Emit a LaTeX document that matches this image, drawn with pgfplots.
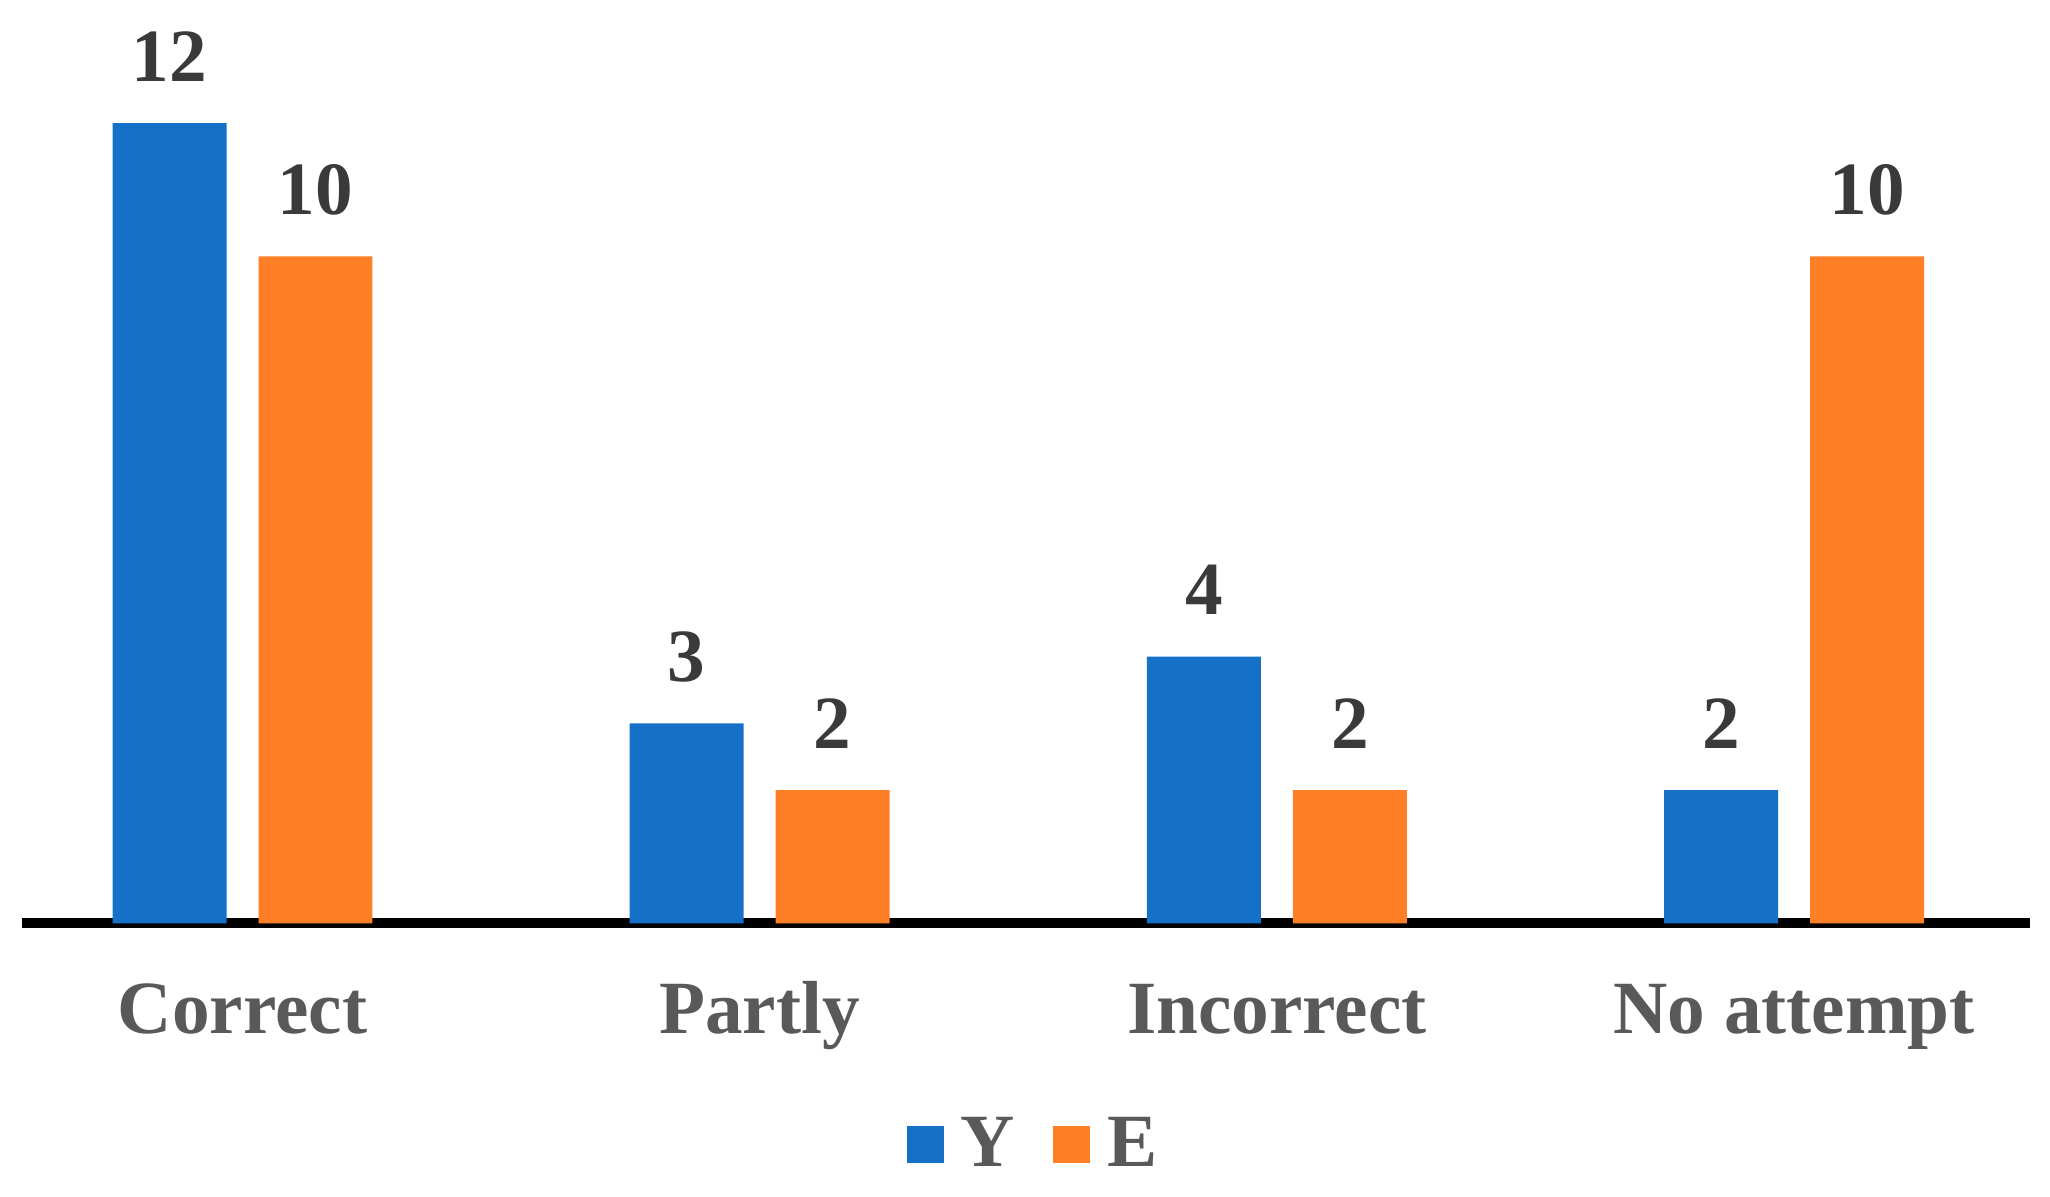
\documentclass[border=0pt]{standalone}
\usepackage{pgfplots}
\pgfplotsset{compat=1.18}
\usepackage{fontspec}
\setmainfont{Liberation Serif}

\definecolor{ybar}{HTML}{1570C8}
\definecolor{ebar}{HTML}{FF7F27}
\definecolor{lblgray}{HTML}{595959}
\definecolor{valgray}{HTML}{3A3A3A}

\begin{document}
\begin{tikzpicture}
\begin{axis}[
    x=129.3pt, y=16.675pt,
    xmin=-0.4263, xmax=3.456,
    ymin=0, ymax=13.8,
    clip=false,
    ybar=8pt,
    bar width=28.5pt,
    axis x line=bottom,
    axis y line=none,
    x axis line style={-, line width=2.5pt, black},
    xtick={0,1,2,3},
    xticklabels={Correct, Partly, Incorrect, No attempt},
    major tick length=0pt,
    xticklabel style={anchor=base, yshift=-27.5pt, text=lblgray,
        font=\fontsize{18.8}{23}\selectfont\bfseries},
    nodes near coords,
    /pgf/number format/assume math mode=true,
    every node near coord/.append style={anchor=base, yshift=10.5pt,
        text=valgray, font=\fontsize{18.8}{23}\selectfont\bfseries},
    legend columns=2,
    legend style={at={(0.505,-0.241)}, anchor=center, draw=none, fill=none,
        font=\fontsize{18.8}{23}\selectfont\bfseries, text=lblgray,
        /tikz/every even column/.append style={column sep=7.5pt}},
    legend image code/.code={\fill[#1] (0pt,-4.45pt) rectangle (9.25pt,4.8pt);
        \path (11.5pt,0pt);},
]
\addplot[fill=ybar, draw=none] coordinates {(0,12) (1,3) (2,4) (3,2)};
\addplot[fill=ebar, draw=none] coordinates {(0,10) (1,2) (2,2) (3,10)};
\legend{Y, E}
\coordinate (bl) at (axis cs:-0.4689,-4.095);
\coordinate (tr) at (axis cs:3.4950,13.845);
\end{axis}
\pgfresetboundingbox
\useasboundingbox (bl) rectangle (tr);
\end{tikzpicture}
\end{document}
